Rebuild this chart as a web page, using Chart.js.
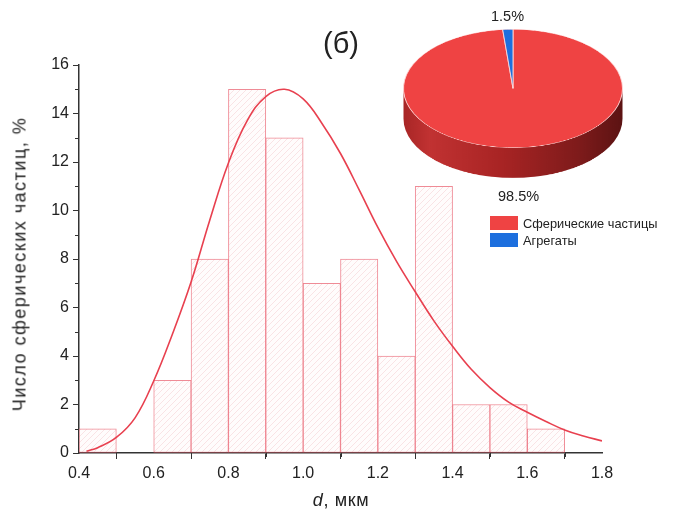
<!DOCTYPE html>
<html>
<head>
<meta charset="utf-8">
<script src="https://cdn.jsdelivr.net/npm/chart.js@4/dist/chart.umd.min.js"></script>
<style>
  html, body { margin: 0; padding: 0; background: #fff; }
  #wrap { position: relative; width: 676px; height: 517px; font-family: "Liberation Sans", Arial, sans-serif; color: #222; }
  #main { position: absolute; left: 0; top: 0; }
  #pie { position: absolute; left: 400px; top: 28px; transform: scaleY(0.54); transform-origin: 0 0; }
  .txt { position: absolute; white-space: nowrap; }
  #title { left: 0; width: 682px; top: 27px; text-align: center; font-size: 29px; }
  #xtitle { left: 0; width: 682px; top: 490px; text-align: center; font-size: 18px; letter-spacing: 0.6px; }
  #ytitle { left: 20px; top: 264px; font-size: 18px; letter-spacing: 1.5px; transform: translate(-50%, -50%) rotate(-90deg); }
  #legend { position: absolute; left: 490px; top: 216px; font-size: 12.8px; }
  #legend div { height: 17px; line-height: 15px; }
  #legend span.box { display: inline-block; width: 28px; height: 14px; vertical-align: top; margin-right: 5px; }
</style>
</head>
<body>
<div id="wrap">
  <canvas id="main" width="676" height="517"></canvas>
  <canvas id="pie" width="226" height="280"></canvas>
  <div class="txt" id="title">(б)</div>
  <div class="txt" id="xtitle"><i>d</i>, мкм</div>
  <div class="txt" id="ytitle">Число сферических частиц, %</div>
  <div class="txt" id="pctSmall" style="left:491px; top:8px; font-size:14.5px;"></div>
  <div class="txt" id="pctBig" style="left:498px; top:188px; font-size:14.5px;"></div>
  <div id="legend"></div>
</div>
<script>
// histogram bins (centres, мкм) and share of particles, %
const binCenters = [0.45, 0.55, 0.65, 0.75, 0.85, 0.95, 1.05, 1.15, 1.25, 1.35, 1.45, 1.55, 1.65, 1.75];
const binCounts = [1, 0, 3, 8, 15, 13, 7, 8, 4, 11, 2, 2, 1, 0];

// fitted distribution curve
const curveX = [0.42, 0.45, 0.5, 0.55, 0.6, 0.65, 0.7, 0.75, 0.8, 0.85, 0.9, 0.95, 1.0, 1.05, 1.1, 1.15, 1.2, 1.25, 1.3, 1.35, 1.4, 1.45, 1.5, 1.55, 1.6, 1.65, 1.7, 1.75, 1.8];
const curveY = [0.07, 0.22, 0.64, 1.45, 2.97, 4.9, 7.05, 9.6, 11.96, 13.7, 14.7, 15.0, 14.6, 13.6, 12.35, 10.85, 9.3, 7.9, 6.65, 5.45, 4.4, 3.45, 2.7, 2.1, 1.68, 1.3, 0.95, 0.7, 0.5];

// inset: particle types
const pieLabels = ["Сферические частицы", "Агрегаты"];
const pieValues = [98.5, 1.5];
const pieColors = ["#ef4343", "#1d6fde"];

const FONT = "'Liberation Sans', Arial, sans-serif";
const AXIS = "#333";

// faint diagonal hatch for the bars
function hatch() {
  const c = document.createElement("canvas");
  c.width = 6; c.height = 6;
  const g = c.getContext("2d");
  g.fillStyle = "#fffcfc";
  g.fillRect(0, 0, 6, 6);
  g.strokeStyle = "rgba(240,190,195,0.4)";
  g.lineWidth = 1;
  g.beginPath();
  g.moveTo(0, 6); g.lineTo(6, 0);
  g.moveTo(-1, 1); g.lineTo(1, -1);
  g.moveTo(5, 7); g.lineTo(7, 5);
  g.stroke();
  return g.createPattern(c, "repeat");
}

// short ticks halfway between the labelled ones
const minorTicks = {
  id: "minorTicks",
  afterDraw(chart) {
    const ctx = chart.ctx;
    const xs = chart.scales.x, ys = chart.scales.y;
    ctx.save();
    ctx.strokeStyle = AXIS;
    ctx.lineWidth = 1;
    ctx.beginPath();
    for (let i = 0; i < xs.ticks.length - 1; i++) {
      const px = Math.round(xs.getPixelForValue((xs.ticks[i].value + xs.ticks[i + 1].value) / 2)) + 0.5;
      ctx.moveTo(px, xs.top); ctx.lineTo(px, xs.top + 4);
    }
    for (let i = 0; i < ys.ticks.length - 1; i++) {
      const py = Math.round(ys.getPixelForValue((ys.ticks[i].value + ys.ticks[i + 1].value) / 2)) + 0.5;
      ctx.moveTo(ys.right, py); ctx.lineTo(ys.right - 4, py);
    }
    ctx.stroke();
    ctx.restore();
  }
};

new Chart(document.getElementById("main"), {
  type: "bar",
  data: {
    datasets: [
      {
        type: "line",
        data: curveX.map((x, i) => ({ x, y: curveY[i] })),
        borderColor: "#e8404f",
        borderWidth: 1.6,
        pointRadius: 0,
        tension: 0.4,
        order: 0
      },
      {
        data: binCenters.map((x, i) => ({ x, y: binCounts[i] })),
        backgroundColor: hatch(),
        borderColor: "rgba(232,90,105,0.7)",
        borderWidth: 1,
        borderSkipped: false,
        barPercentage: 1,
        categoryPercentage: 1,
        order: 1
      }
    ]
  },
  options: {
    responsive: false,
    animation: false,
    layout: { padding: { left: 0, right: 74, top: 65, bottom: 0 } },
    plugins: { legend: { display: false }, tooltip: { enabled: false } },
    scales: {
      x: {
        type: "linear",
        offset: false,
        min: 0.4, max: 1.8,
        afterFit(s) { s.height = 64; },
        border: { display: true, color: AXIS, width: 1.5 },
        grid: { drawOnChartArea: false, drawTicks: true, tickLength: 6, color: AXIS },
        ticks: {
          stepSize: 0.2,
          padding: 5,
          color: "#222",
          font: { family: FONT, size: 16 },
          callback: v => v.toFixed(1)
        }
      },
      y: {
        min: 0, max: 16,
        afterFit(s) { s.width = 79; },
        border: { display: true, color: AXIS, width: 1.5 },
        grid: { drawOnChartArea: false, drawTicks: true, tickLength: 6, color: AXIS },
        ticks: { stepSize: 2, padding: 4, color: "#222", font: { family: FONT, size: 16 } }
      }
    }
  },
  plugins: [minorTicks]
});

// side wall of the disc, drawn under the slices
const DEPTH = 56;
const pieWall = {
  id: "pieWall",
  beforeDatasetsDraw(chart) {
    const arc = chart.getDatasetMeta(0).data[0];
    if (!arc) return;
    const { x: cx, y: cy, outerRadius: r } = arc;
    const ctx = chart.ctx;
    const g = ctx.createLinearGradient(cx - r, 0, cx + r, 0);
    g.addColorStop(0, "#a82626");
    g.addColorStop(0.12, "#c13232");
    g.addColorStop(0.45, "#a82424");
    g.addColorStop(0.8, "#7e1b1b");
    g.addColorStop(1, "#5c1313");
    ctx.save();
    ctx.beginPath();
    ctx.moveTo(cx - r, cy);
    ctx.lineTo(cx - r, cy + DEPTH);
    ctx.arc(cx, cy + DEPTH, r, Math.PI, 0, true);
    ctx.lineTo(cx + r, cy);
    ctx.arc(cx, cy, r, 0, Math.PI, false);
    ctx.closePath();
    ctx.fillStyle = g;
    ctx.fill();
    ctx.restore();
  }
};

new Chart(document.getElementById("pie"), {
  type: "pie",
  data: {
    labels: pieLabels,
    datasets: [{
      data: pieValues,
      backgroundColor: pieColors,
      borderColor: "rgba(255,215,215,0.9)",
      borderWidth: 1
    }]
  },
  options: {
    responsive: false,
    animation: false,
    layout: { padding: { left: 2, right: 2, top: 2, bottom: DEPTH + 2 } },
    plugins: { legend: { display: false }, tooltip: { enabled: false } }
  },
  plugins: [pieWall]
});

document.getElementById("pctBig").textContent = pieValues[0] + "%";
document.getElementById("pctSmall").textContent = pieValues[1] + "%";

const legend = document.getElementById("legend");
pieLabels.forEach((label, i) => {
  const row = document.createElement("div");
  row.innerHTML = '<span class="box" style="background:' + pieColors[i] + '"></span>' + label;
  legend.appendChild(row);
});
</script>
</body>
</html>
